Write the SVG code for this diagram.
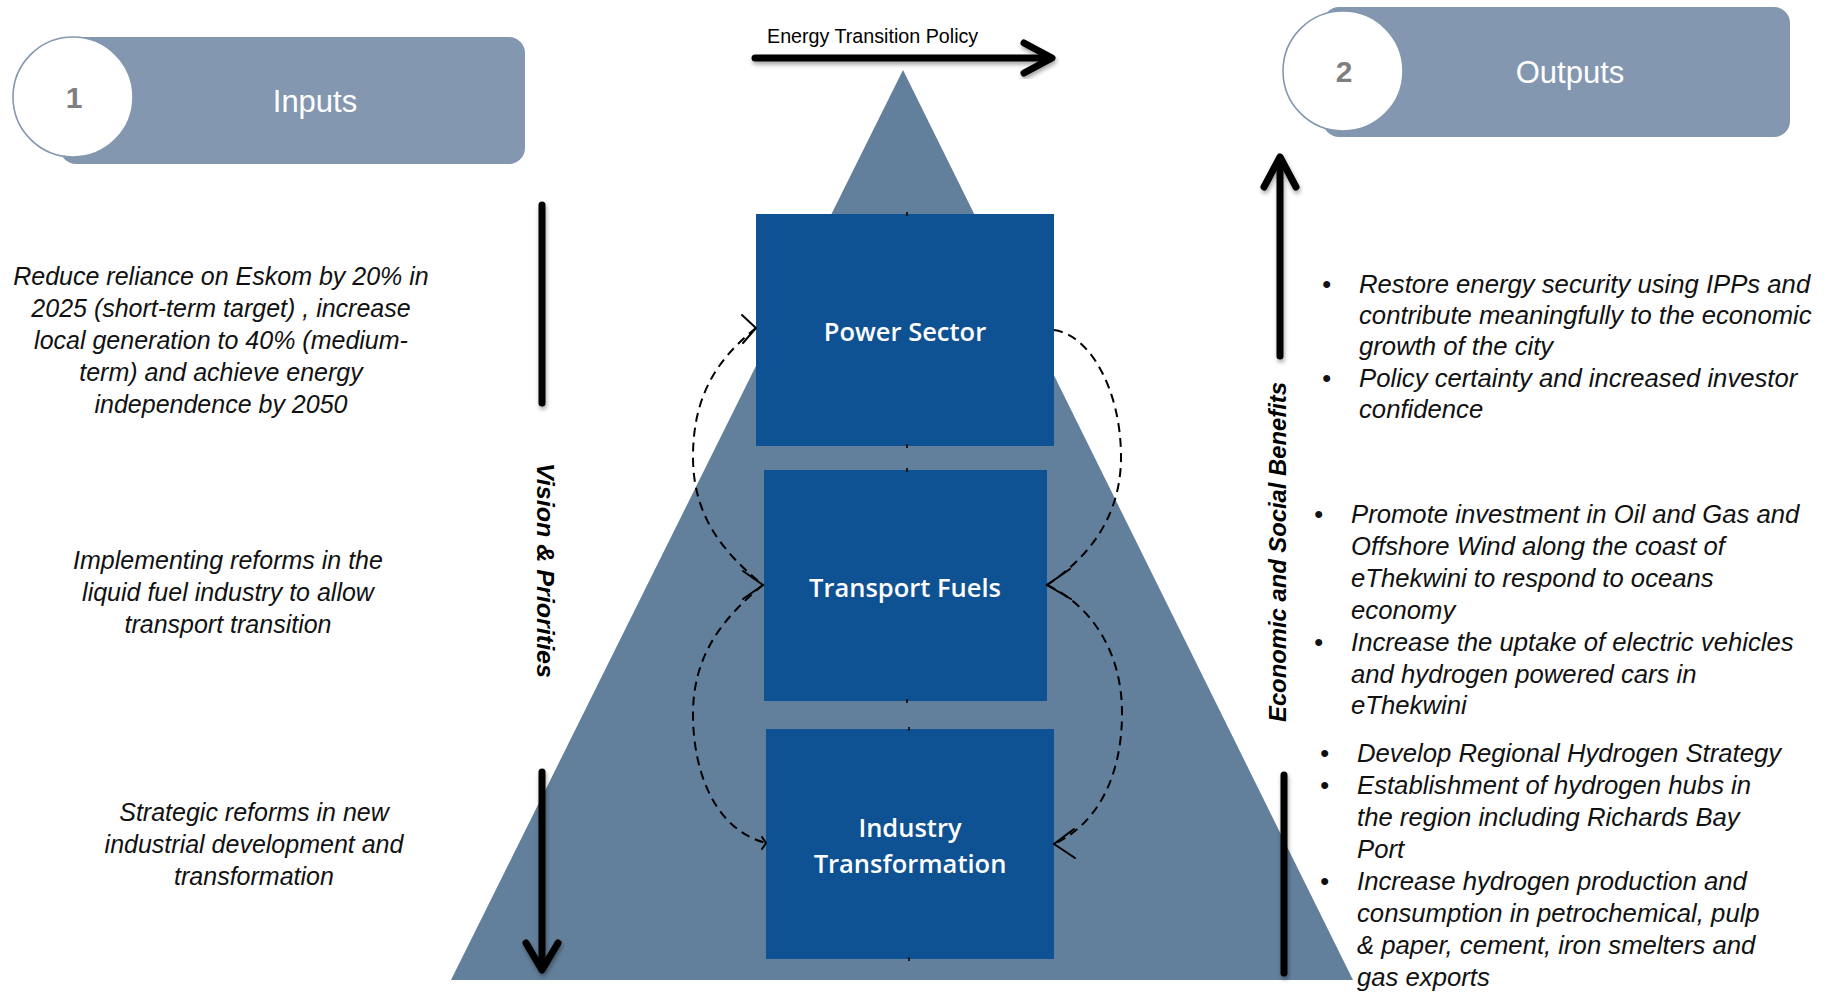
<svg xmlns="http://www.w3.org/2000/svg" width="1829" height="995" viewBox="0 0 1829 995">
  <defs>
    <style>
      .header-bar { fill: #8497b0; }
      .header-disc { fill: #ffffff; stroke: #8497b0; stroke-width: 1.6; }
      .header-num { font-family: "Liberation Sans", Arial, sans-serif; font-weight: bold; font-size: 30px; fill: #7f7f7f; text-anchor: middle; }
      .header-title { font-family: "Liberation Sans", Arial, sans-serif; font-size: 31px; fill: #ffffff; text-anchor: middle; }
      .sector { fill: #0f5294; }
      .sector-label { font-family: "Open Sans", "Liberation Sans", Arial, sans-serif; font-weight: 600; font-size: 25.5px; fill: #ffffff; text-anchor: middle; }
      .bold-arrow { fill: none; stroke: #000000; stroke-width: 7; stroke-linecap: round; stroke-linejoin: round; }
      .loop { fill: none; stroke: #000000; stroke-width: 2; stroke-dasharray: 9 6; }
      .loop-head { fill: none; stroke: #000000; stroke-width: 2; stroke-linecap: round; stroke-linejoin: miter; }
      .tick { stroke: #1a1a1a; stroke-width: 2; }
      .axis-label { font-family: "Liberation Sans", Arial, sans-serif; font-weight: bold; font-style: italic; font-size: 24px; fill: #000000; }
      .body { font-family: "Liberation Sans", Arial, sans-serif; font-style: italic; font-size: 25px; fill: #111111; }
      .body-right { font-size: 25.7px; }
      .centered { text-anchor: middle; }
      .policy-label { font-family: "Liberation Sans", Arial, sans-serif; font-size: 19.7px; fill: #000000; }
    </style>
    <filter id="arrowShadow" x="-20%" y="-20%" width="140%" height="140%">
      <feDropShadow dx="1" dy="3" stdDeviation="2" flood-color="#000000" flood-opacity="0.35"/>
    </filter>
  </defs>

  <rect width="1829" height="995" fill="#ffffff"/>

  <!-- pyramid backdrop -->
  <g id="pyramid">
    <polygon points="903,70 451,980 1353,980" fill="#627f9b"/>
  </g>

  <!-- header 1: inputs -->
  <g id="inputs-header">
    <rect class="header-bar" x="60" y="37" width="465" height="127" rx="16" ry="16"/>
    <circle class="header-disc" cx="73" cy="97" r="60"/>
    <text class="header-num" x="74" y="108">1</text>
    <text class="header-title" x="315" y="112">Inputs</text>
  </g>

  <!-- header 2: outputs -->
  <g id="outputs-header">
    <rect class="header-bar" x="1323" y="7" width="467" height="130" rx="16" ry="16"/>
    <circle class="header-disc" cx="1343" cy="71" r="60"/>
    <text class="header-num" x="1344" y="82">2</text>
    <text class="header-title" x="1570" y="83">Outputs</text>
  </g>

  <!-- policy arrow across the apex -->
  <g id="policy-arrow">
    <g filter="url(#arrowShadow)">
      <path class="bold-arrow" d="M755,58 L1049,58"/>
      <path class="bold-arrow" d="M1024,43 L1052,58 L1024,73"/>
    </g>
    <text class="policy-label" x="767" y="43">Energy Transition Policy</text>
  </g>

  <!-- sector nodes -->
  <g id="node-power">
    <rect class="sector" x="756" y="214" width="298" height="232"/>
    <text class="sector-label" x="905" y="341">Power Sector</text>
  </g>
  <g id="node-transport">
    <rect class="sector" x="764" y="470" width="283" height="231"/>
    <text class="sector-label" x="905" y="597">Transport Fuels</text>
  </g>
  <g id="node-industry">
    <rect class="sector" x="766" y="729" width="288" height="230"/>
    <text class="sector-label" x="910" y="837">Industry</text>
    <text class="sector-label" x="910" y="873">Transformation</text>
  </g>

  <!-- feedback loops between the sectors -->
  <g id="connectors">
    <!-- left: power <-> transport -->
    <path class="loop" d="M756,328 C716,360 693,397 693,457 C693,517 724,553 763,585"/>
    <path class="loop-head" d="M742,315 L756,328 L743,343"/>
    <path class="loop-head" d="M743,571 L763,585 L743,599"/>
    <!-- left: transport -> industry -->
    <path class="loop" d="M763,585 C724,617 693,654 693,714 C693,774 716,830 766,843"/>
    <path class="loop-head" d="M762,837 L766,843 L762,849"/>
    <!-- right: power -> transport -->
    <path class="loop" d="M1054,330 C1090,335 1121,390 1121,457 C1121,520 1085,560 1047,585"/>
    <path class="loop-head" d="M1070,569 L1047,585 L1071,599"/>
    <!-- right: transport -> industry -->
    <path class="loop" d="M1047,585 C1090,605 1122,650 1122,713 C1122,780 1095,825 1054,844"/>
    <path class="loop-head" d="M1074,829 L1054,844 L1075,858"/>
    <!-- stub ends of the central links -->
    <path class="tick" d="M907,212 L907,216 M907,444 L907,448 M907,468 L907,472 M907,699 L907,703 M909,727 L909,731 M909,957 L909,961"/>
  </g>

  <!-- vision & priorities axis -->
  <g id="axis-vision">
    <g filter="url(#arrowShadow)">
      <path class="bold-arrow" d="M542,205 L542,403"/>
      <path class="bold-arrow" d="M542,772 L542,968"/>
      <path class="bold-arrow" d="M526,943 L542,970 L558,943"/>
    </g>
    <text class="axis-label" transform="translate(537,463) rotate(90)" textLength="215" lengthAdjust="spacingAndGlyphs">Vision &amp; Priorities</text>
  </g>

  <!-- economic and social benefits axis -->
  <g id="axis-benefits">
    <g filter="url(#arrowShadow)">
      <path class="bold-arrow" d="M1280,356 L1280,160"/>
      <path class="bold-arrow" d="M1264,187 L1280,157 L1296,187"/>
      <path class="bold-arrow" d="M1284,775 L1284,973"/>
    </g>
    <text class="axis-label" transform="translate(1286,722) rotate(-90)" textLength="340" lengthAdjust="spacingAndGlyphs">Economic and Social Benefits</text>
  </g>

  <!-- input statements -->
  <g id="inputs-text" class="body centered">
    <text x="221" y="285">Reduce reliance on Eskom by 20% in</text>
    <text x="221" y="317">2025 (short-term target) , increase</text>
    <text x="221" y="349">local generation to 40% (medium-</text>
    <text x="221" y="381">term) and achieve energy</text>
    <text x="221" y="413">independence by 2050</text>

    <text x="228" y="569">Implementing reforms in the</text>
    <text x="228" y="601">liquid fuel industry to allow</text>
    <text x="228" y="633">transport transition</text>

    <text x="254" y="821">Strategic reforms in new</text>
    <text x="254" y="853">industrial development and</text>
    <text x="254" y="885">transformation</text>
  </g>

  <!-- output statements -->
  <g id="outputs-text" class="body body-right">
    <text x="1322" y="293">•</text>
    <text x="1359" y="293">Restore energy security using IPPs and</text>
    <text x="1359" y="324">contribute meaningfully to the economic</text>
    <text x="1359" y="355">growth of the city</text>
    <text x="1322" y="387">•</text>
    <text x="1359" y="387">Policy certainty and increased investor</text>
    <text x="1359" y="418">confidence</text>

    <text x="1314" y="523">•</text>
    <text x="1351" y="523">Promote investment in Oil and Gas and</text>
    <text x="1351" y="555">Offshore Wind along the coast of</text>
    <text x="1351" y="587">eThekwini to respond to oceans</text>
    <text x="1351" y="619">economy</text>
    <text x="1314" y="651">•</text>
    <text x="1351" y="651">Increase the uptake of electric vehicles</text>
    <text x="1351" y="683">and hydrogen powered cars in</text>
    <text x="1351" y="714">eThekwini</text>

    <text x="1320" y="762">•</text>
    <text x="1357" y="762">Develop Regional Hydrogen Strategy</text>
    <text x="1320" y="794">•</text>
    <text x="1357" y="794">Establishment of hydrogen hubs in</text>
    <text x="1357" y="826">the region including Richards Bay</text>
    <text x="1357" y="858">Port</text>
    <text x="1320" y="890">•</text>
    <text x="1357" y="890">Increase hydrogen production and</text>
    <text x="1357" y="922">consumption in petrochemical, pulp</text>
    <text x="1357" y="954">&amp; paper, cement, iron smelters and</text>
    <text x="1357" y="986">gas exports</text>
  </g>
</svg>
